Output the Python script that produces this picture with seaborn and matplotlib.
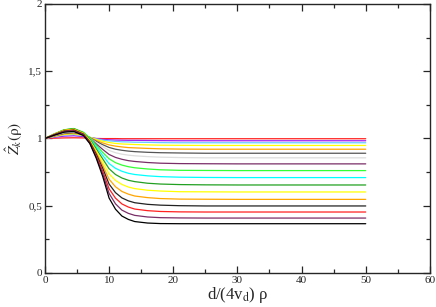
import numpy as np
import pandas as pd
import matplotlib
matplotlib.use("Agg")
import matplotlib.pyplot as plt
import seaborn as sns
from matplotlib.ticker import MultipleLocator, FuncFormatter

# =======================
# data (17 curves, bottom plateau -> top plateau)
# =======================
x_vals = [0, 1.5, 3, 4.5, 6, 7, 8, 9, 10, 11, 12, 13, 14, 16, 18, 21, 25, 30, 40, 50]

curve_00 = [1.000, 1.025, 1.047, 1.052, 1.022, 0.962, 0.853, 0.719, 0.557, 0.474, 0.423, 0.398, 0.382, 0.371, 0.367, 0.366, 0.366, 0.366, 0.366, 0.366]
curve_01 = [1.000, 1.027, 1.051, 1.057, 1.027, 0.966, 0.862, 0.738, 0.591, 0.514, 0.467, 0.443, 0.428, 0.416, 0.411, 0.409, 0.408, 0.408, 0.408, 0.408]
curve_02 = [1.000, 1.027, 1.051, 1.057, 1.027, 0.969, 0.872, 0.758, 0.626, 0.556, 0.513, 0.490, 0.475, 0.463, 0.457, 0.454, 0.453, 0.453, 0.453, 0.453]
curve_03 = [1.000, 1.029, 1.055, 1.062, 1.032, 0.974, 0.883, 0.779, 0.661, 0.597, 0.558, 0.536, 0.522, 0.510, 0.504, 0.500, 0.498, 0.498, 0.498, 0.498]
curve_04 = [1.000, 1.032, 1.060, 1.068, 1.037, 0.981, 0.895, 0.801, 0.697, 0.641, 0.606, 0.586, 0.572, 0.560, 0.553, 0.549, 0.548, 0.547, 0.547, 0.547]
curve_05 = [1.000, 1.032, 1.060, 1.068, 1.039, 0.986, 0.908, 0.826, 0.737, 0.688, 0.658, 0.639, 0.627, 0.615, 0.609, 0.604, 0.603, 0.602, 0.602, 0.602]
curve_06 = [1.000, 1.034, 1.064, 1.073, 1.043, 0.993, 0.922, 0.849, 0.775, 0.732, 0.706, 0.689, 0.679, 0.667, 0.661, 0.657, 0.655, 0.654, 0.654, 0.654]
curve_07 = [1.000, 1.032, 1.060, 1.069, 1.042, 0.996, 0.935, 0.874, 0.813, 0.778, 0.756, 0.741, 0.732, 0.722, 0.716, 0.712, 0.710, 0.709, 0.709, 0.709]
curve_08 = [1.000, 1.034, 1.064, 1.074, 1.046, 1.004, 0.949, 0.897, 0.849, 0.820, 0.802, 0.790, 0.782, 0.773, 0.767, 0.763, 0.762, 0.761, 0.761, 0.761]
curve_09 = [1.000, 1.027, 1.051, 1.059, 1.037, 1.003, 0.959, 0.919, 0.881, 0.859, 0.845, 0.835, 0.829, 0.821, 0.816, 0.813, 0.812, 0.811, 0.811, 0.811]
curve_10 = [1.000, 1.023, 1.043, 1.049, 1.032, 1.004, 0.970, 0.939, 0.911, 0.894, 0.883, 0.876, 0.871, 0.865, 0.861, 0.858, 0.856, 0.856, 0.856, 0.856]
curve_11 = [1.000, 1.020, 1.038, 1.044, 1.029, 1.005, 0.978, 0.954, 0.933, 0.920, 0.912, 0.906, 0.902, 0.897, 0.894, 0.892, 0.890, 0.890, 0.890, 0.890]
curve_12 = [1.000, 1.018, 1.034, 1.040, 1.026, 1.007, 0.985, 0.967, 0.952, 0.943, 0.937, 0.932, 0.930, 0.926, 0.923, 0.921, 0.920, 0.920, 0.920, 0.920]
curve_13 = [1.000, 1.016, 1.030, 1.035, 1.024, 1.009, 0.992, 0.979, 0.970, 0.963, 0.959, 0.957, 0.955, 0.952, 0.950, 0.949, 0.948, 0.948, 0.948, 0.948]
curve_14 = [1.000, 1.014, 1.026, 1.030, 1.022, 1.009, 0.997, 0.988, 0.982, 0.978, 0.975, 0.974, 0.972, 0.971, 0.969, 0.968, 0.968, 0.968, 0.968, 0.968]
curve_15 = [1.000, 1.009, 1.017, 1.020, 1.014, 1.007, 0.999, 0.993, 0.990, 0.988, 0.987, 0.986, 0.986, 0.985, 0.984, 0.983, 0.983, 0.983, 0.983, 0.983]
curve_16 = [1.000, 1.002, 1.004, 1.005, 1.004, 1.002, 1.000, 0.999, 0.999, 0.999, 0.998, 0.998, 0.998, 0.998, 0.998, 0.998, 0.998, 0.998, 0.998, 0.998]

curves = [curve_00, curve_01, curve_02, curve_03, curve_04, curve_05, curve_06, curve_07, curve_08,
          curve_09, curve_10, curve_11, curve_12, curve_13, curve_14, curve_15, curve_16]

line_colors = ["#000000", "#7a2e68", "#ff2020", "#222222", "#ffa500", "#ffff00", "#22a022", "#00ffff",
               "#33ff33", "#7a2e68", "#dddddd", "#555555", "#ffa500", "#ffff00", "#66ccff", "#a020f0", "#ff2020"]

x_ticks = [0, 10, 20, 30, 40, 50, 60]
y_ticks = [0, 0.5, 1, 1.5, 2]

# long-form table for seaborn
rows = []
for k, ys in enumerate(curves):
    for xv, yv in zip(x_vals, ys):
        rows.append((f"c{k:02d}", xv, yv))
df = pd.DataFrame(rows, columns=["curve", "x", "y"])
names = [f"c{k:02d}" for k in range(len(curves))]
pal = dict(zip(names, line_colors))

# =======================
# figure
# =======================
sns.set_style("ticks")
plt.rcParams["font.family"] = ["Liberation Serif", "DejaVu Serif"]
plt.rcParams["mathtext.fontset"] = "stix"

fig = plt.figure(figsize=(4.36, 3.07), dpi=100)
ax = fig.add_axes([0.103, 0.111, 0.883, 0.876])

# top curves first so the low black one ends on top
sns.lineplot(data=df, x="x", y="y", hue="curve", palette=pal,
             hue_order=names[::-1], linewidth=0.9,
             legend=False, ax=ax, estimator=None, sort=False)

ax.set_xlim(0, 60)
ax.set_ylim(0, 2)
ax.set_xticks(x_ticks)
ax.set_yticks(y_ticks)
ax.xaxis.set_minor_locator(MultipleLocator(5))
ax.yaxis.set_minor_locator(MultipleLocator(0.25))
ax.yaxis.set_major_formatter(FuncFormatter(lambda v, p: f"{v:g}".replace(".", ",")))
ax.tick_params(which="both", direction="in", top=True, right=True, labelsize=8, width=0.9, pad=2)
ax.tick_params(which="major", length=5)
ax.tick_params(which="minor", length=3)
for s in ax.spines.values():
    s.set_linewidth(1.0)

ax.set_xlabel(r"d/(4v$_\mathrm{d}$) ρ", fontsize=12, labelpad=0)
ax.set_ylabel(r"$\hat{Z}_k(\mathrm{\rho})$", fontsize=11, labelpad=2)

fig.savefig("out.png", dpi=100)
